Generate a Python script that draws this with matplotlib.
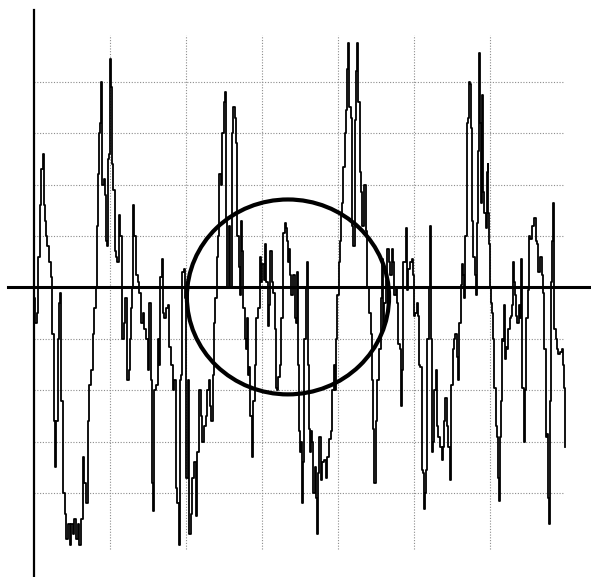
import matplotlib
matplotlib.use("Agg")
import matplotlib.pyplot as plt
from matplotlib.patches import Ellipse

# sampled waveform: step positions (grid units) and held values
signal_x = [
    0.000, 0.013, 0.035, 0.052, 0.078, 0.095, 0.113, 0.126, 0.143, 0.156,
    0.173, 0.199, 0.225, 0.242, 0.260, 0.277, 0.294, 0.312, 0.329, 0.346,
    0.359, 0.381, 0.403, 0.424, 0.446, 0.468, 0.489, 0.511, 0.532, 0.554,
    0.576, 0.597, 0.619, 0.641, 0.662, 0.684, 0.706, 0.727, 0.749, 0.771,
    0.792, 0.814, 0.827, 0.844, 0.857, 0.870, 0.883, 0.896, 0.918, 0.935,
    0.948, 0.961, 0.974, 0.987, 1.000, 1.017, 1.026, 1.043, 1.061, 1.078,
    1.095, 1.113,
    1.136, 1.158, 1.180, 1.202, 1.224, 1.246, 1.259, 1.276, 1.289, 1.303,
    1.320, 1.342, 1.364, 1.386, 1.408, 1.430, 1.452, 1.474, 1.496, 1.518,
    1.539, 1.553, 1.566, 1.579, 1.605, 1.627, 1.645, 1.662, 1.680, 1.697,
    1.715, 1.737, 1.759, 1.781, 1.803, 1.825, 1.846, 1.868, 1.886, 1.904,
    1.917, 1.934, 1.947, 1.969, 1.987, 2.004, 2.022, 2.039, 2.061, 2.083,
    2.105, 2.127, 2.149, 2.171, 2.193, 2.215, 2.237, 2.259, 2.281, 2.303,
    2.311, 2.333, 2.355, 2.368, 2.386, 2.404, 2.421, 2.439, 2.461, 2.478,
    2.496, 2.509, 2.522, 2.539, 2.561, 2.583, 2.601, 2.618, 2.640, 2.662,
    2.675, 2.693, 2.706, 2.728, 2.741, 2.754, 2.772, 2.794, 2.807, 2.820,
    2.833, 2.846, 2.864, 2.882, 2.904, 2.925, 2.947, 2.969, 2.991, 3.004,
    3.022, 3.035, 3.057, 3.079, 3.092, 3.110, 3.127, 3.145, 3.167, 3.180,
    3.202, 3.215, 3.232, 3.254, 3.276, 3.298, 3.311, 3.329, 3.342, 3.355,
    3.368, 3.386, 3.408, 3.430, 3.452, 3.465, 3.478, 3.487, 3.504,
    3.509, 3.522, 3.535, 3.553, 3.575, 3.592, 3.605, 3.618, 3.632, 3.649,
    3.662, 3.675, 3.693, 3.711, 3.728, 3.741, 3.754, 3.772, 3.794, 3.816,
    3.838, 3.860, 3.882, 3.904, 3.925, 3.947, 3.961, 3.974, 3.991, 4.013,
    4.026, 4.039, 4.057, 4.070, 4.088, 4.105, 4.123, 4.136, 4.149, 4.167,
    4.189, 4.202, 4.219, 4.237, 4.254, 4.268, 4.285, 4.303, 4.320, 4.342,
    4.364, 4.386, 4.408, 4.430, 4.443, 4.456, 4.474, 4.496, 4.518, 4.539,
    4.561, 4.575, 4.588, 4.605, 4.627, 4.649, 4.671,
    4.684, 4.706, 4.728, 4.741, 4.763, 4.781, 4.794, 4.816, 4.829, 4.842,
    4.860, 4.877, 4.890, 4.904, 4.925, 4.947, 4.969, 4.982, 5.000, 5.018,
    5.035, 5.048, 5.061, 5.079, 5.101, 5.114, 5.127, 5.140, 5.158, 5.175,
    5.193, 5.211, 5.224, 5.237, 5.254, 5.268, 5.285, 5.303, 5.320, 5.342,
    5.364, 5.377, 5.395, 5.412, 5.430, 5.452, 5.474, 5.487, 5.509, 5.526,
    5.544, 5.561, 5.583, 5.596, 5.614, 5.627, 5.640, 5.658, 5.675, 5.693,
    5.711, 5.728, 5.741, 5.754, 5.768, 5.781, 5.798, 5.811, 5.825, 5.838,
    5.851, 5.868, 5.882,
    5.890, 5.908, 5.925, 5.943, 5.956, 5.969, 5.978, 5.987, 6.000, 6.013,
    6.031, 6.044, 6.057, 6.075, 6.088, 6.101, 6.118, 6.132, 6.145, 6.162,
    6.175, 6.189, 6.197, 6.211, 6.224, 6.241, 6.259, 6.276, 6.294, 6.307,
    6.320, 6.333, 6.346, 6.360, 6.377, 6.395, 6.408, 6.425, 6.443, 6.460,
    6.478, 6.496, 6.509, 6.526, 6.548, 6.570, 6.583, 6.601, 6.618, 6.636,
    6.658, 6.680, 6.697, 6.715, 6.732, 6.746, 6.759, 6.776, 6.789, 6.803,
    6.820, 6.833, 6.846, 6.864, 6.877, 6.899, 6.921, 6.943, 6.965, 6.978,
    6.987,
]
signal_y = [
    -0.2, -0.7, -0.5, 0.6, 1.6, 2.3, 2.6, 1.6, 1.3, 1.0,
    0.8, 0.5, 0.2, -0.9, -2.6, -3.5, -2.6, -1.0, -0.3, -0.1,
    -2.2, -4.0, -4.4, -4.9, -4.6, -5.0, -4.6, -4.8, -4.5, -4.9,
    -4.6, -5.0, -4.5, -3.3, -3.8, -4.2, -2.6, -1.9, -1.6, -0.9,
    -0.4, 0.0, 1.2, 2.2, 3.0, 3.2, 4.0, 2.0, 2.1, 1.8,
    0.9, 0.8, 2.5, 2.6, 4.45, 3.9, 2.4, 1.9, 0.7, 0.6,
    0.5, 1.4,
    1.0, -1.0, -0.7, -0.2, -1.8, -1.6, -1.0, -0.4, 0.0, 1.6,
    1.0, 0.25, 0.1, -0.1, -0.7, -0.5, -0.8, -1.0, -1.6, -0.3,
    -1.8, -3.8, -4.35, -2.0, -1.9, -1.0, -1.5, 0.2, 0.55, -0.5,
    -0.6, -0.4, -0.35, -1.15, -1.5, -2.0, -1.8, -3.9, -4.2, -5.0,
    -1.8, -1.7, 0.3, 0.35, -0.2, -3.7, -1.8, -4.8, -4.4, -3.7,
    -3.4, -4.45, -3.2, -2.0, -2.5, -3.0, -2.7, -2.5, -2.0, -1.8,
    -2.3, -2.6, -1.7, -0.7, -0.2, 0.6, 1.0, 2.2, 2.0, 3.0,
    3.6, 3.8, 1.3, 0.0, 1.2, 0.0, 3.0, 3.5, 3.3, 2.8,
    1.0, 0.4, -0.15, 1.3, 0.7, -0.4, -1.0, -1.2, -0.6, -1.7,
    -1.55, -2.5, -3.3, -2.2, -1.5, -0.6, -0.4, 0.6, 0.1, 0.45,
    0.15, 0.85, 0.1, -0.75, -0.35, 0.7, 0.1, -0.1, -0.8, -1.95,
    -2.0, -1.75, -1.5, -0.6, 1.05, 1.25, 1.15, 0.9, 0.5, 0.75,
    0.25, -0.15, 0.25, -0.6, -0.7, 0.3, -1.5, -2.8, -3.2,
    -3.0, -4.2, -3.4, -1.0, 0.0, 0.5, -1.5, -2.75, -3.2, -2.8,
    -3.0, -4.0, -3.5, -4.1, -4.8, -3.6, -2.9, -3.75, -3.4, -3.35,
    -3.7, -3.3, -2.95, -2.8, -2.0, -1.5, -2.0, -1.0, -0.15, 0.5,
    0.9, 1.45, 1.65, 2.35, 3.0, 3.45, 4.25, 4.75, 3.5, 3.3,
    1.2, 0.8, 3.25, 4.2, 4.75, 3.6, 2.25, 1.85, 1.2, 2.0,
    1.1, 0.0, -0.5, -0.9, -1.8, -2.75, -3.8, -2.6, -1.8, -1.2,
    -0.2, 0.55, -0.8, -0.3, 0.15, 0.75, 0.5,
    0.25, 0.75, 0.5, -0.15, 0.0, -0.3, -1.1, -1.2, -2.3, -1.6,
    0.5, 0.5, 1.15, -0.05, 0.35, 0.5, 0.55, 0.25, -0.55, -0.5,
    -0.3, -0.55, -1.5, -1.55, -3.55, -3.6, -4.3, -4.0, -3.55, -1.0,
    0.0, 1.2, -1.0, -3.2, -3.0, -2.0, -1.6, -2.7, -2.9, -3.1,
    -3.35, -3.1, -2.6, -2.15, -2.7, -3.1, -3.75, -1.9, -1.2, -1.0,
    -0.9, -1.35, -1.8, -0.7, 0.05, 0.45, 0.25, -0.2, 1.0, 3.2,
    3.3, 4.0, 3.95, 3.1, 1.3, 0.6, 0.25, -0.15, 1.25, 2.65,
    4.55, 3.2, 1.65,
    3.75, 1.85, 1.45, 1.15, 2.25, 2.4, 1.45, 0.85, 0.0, -0.3,
    -0.5, -1.0, -1.95, -2.7, -2.9, -3.7, -4.15, -2.9, -2.2, -1.0,
    -1.05, -0.35, -1.4, -1.15, -1.2, -0.8, -0.6, -0.55, -0.35, 0.5,
    0.1, -0.15, -0.55, -0.7, -0.35, -0.6, 0.55, -1.95, -3.0, -2.0,
    -0.6, -0.05, 1.0, 0.95, 1.2, 1.2, 1.35, 0.9, 0.85, 0.3,
    0.6, 0.25, -0.1, -1.2, -2.9, -2.85, -4.1, -4.6, -2.2, 0.1,
    0.9, 1.65, -0.8, -1.0, -1.2, -1.3, -1.25, -1.2, -1.5, -1.95,
    -3.1,
]

grid_cols = [1, 2, 3, 4, 5, 6]
grid_rows = [-4, -3, -2, -1, 1, 2, 3, 4]

# highlighted region (centre, width, height in grid units)
ring_center = (3.342, -0.184)
ring_size = (2.66, 3.79)

fig = plt.figure(figsize=(5.91, 5.77), dpi=100)
ax = fig.add_axes([0, 0, 1, 1])
ax.set_xlim(-0.447, 7.329)
ax.set_ylim(-5.63, 5.59)
ax.axis("off")

dots = dict(color="#8c8c8c", linewidth=0.8, linestyle=(0, (1, 1.5)), zorder=1)
ax.vlines(grid_cols, -5.09, 4.91, **dots)
ax.hlines(grid_rows, 0, 6.96, **dots)

ax.plot(signal_x, signal_y, drawstyle="steps-post", color="black",
        linewidth=1.3, zorder=3)

# axes drawn as plain lines: a long zero line and the left vertical
ax.plot([-0.34, 7.4], [0, 0], color="black", linewidth=2.2, zorder=4)
ax.plot([0, 0], [-5.7, 5.4], color="black", linewidth=1.6, zorder=4)

ax.add_patch(Ellipse(ring_center, ring_size[0], ring_size[1], fill=False,
                     edgecolor="black", linewidth=3.0, zorder=5))

fig.savefig("out.png", dpi=100)
